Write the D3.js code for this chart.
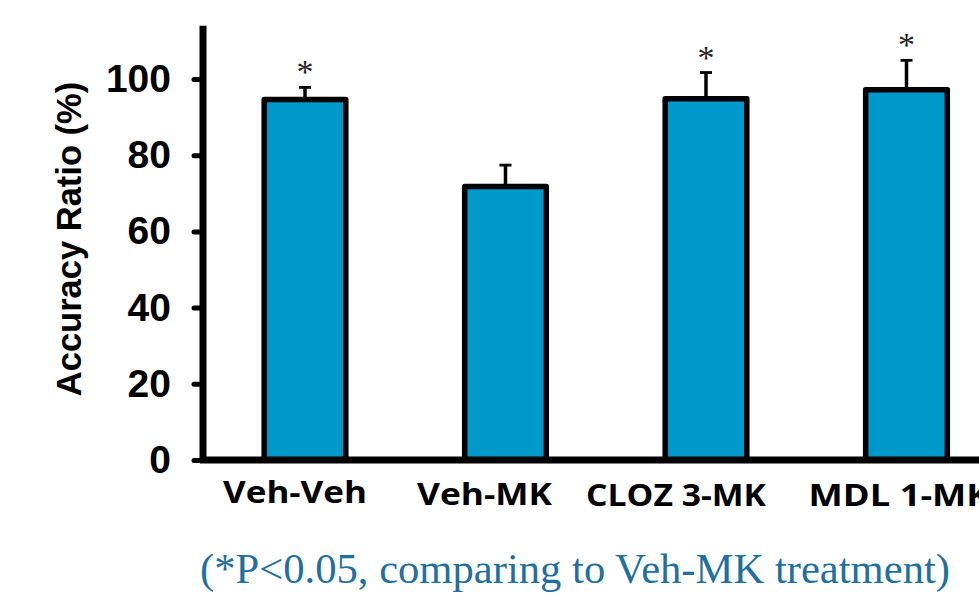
<!DOCTYPE html>
<html>
<head>
<meta charset="utf-8">
<script src="https://cdn.jsdelivr.net/npm/d3@7"></script>
<style>
  html, body { margin: 0; padding: 0; background: #fff; overflow: hidden; }
  svg { display: block; }
</style>
</head>
<body>
<svg id="chart" width="979" height="596"></svg>
<script>
// ---- data ----
const categories = ["Veh-Veh", "Veh-MK", "CLOZ 3-MK", "MDL 1-MK"];
const means = [94.6, 71.8, 94.8, 97.2];
const errors = [3.2, 5.6, 6.9, 7.7];
const significant = [true, false, true, true];
const yTicks = [0, 20, 40, 60, 80, 100];
const yTitle = "Accuracy Ratio (%)";
const footnote = "(*P<0.05, comparing to Veh-MK treatment)";

// ---- layout ----
const W = 979, H = 596;
const axisX = 203, baseY = 460;
const labelShift = [-10, -21, -30, -7];
const labelWidth = [144, 135, 180, 182];
const labelBaseline = [503, 505, 506, 506];

const svg = d3.select("#chart");

const y = d3.scaleLinear().domain([0, 114]).range([baseY, baseY - 114 * 3.81]);
const x = d3.scaleBand().domain(categories)
  .range([204.75, 1006.75]).paddingInner(0.593).paddingOuter(0.2965);

const data = categories.map((c, i) => ({c, m: means[i], e: errors[i], s: significant[i], i}));

// error bars
const eb = svg.append("g");
data.forEach(d => {
  const cx = x(d.c) + x.bandwidth() / 2;
  eb.append("line").attr("x1", cx).attr("x2", cx)
    .attr("y1", y(d.m)).attr("y2", y(d.m + d.e))
    .attr("stroke", "#000").attr("stroke-width", 3.5);
  eb.append("line").attr("x1", cx - 6).attr("x2", cx + 6)
    .attr("y1", y(d.m + d.e)).attr("y2", y(d.m + d.e))
    .attr("stroke", "#000").attr("stroke-width", 2.8);
});

// bars
svg.append("g").selectAll("rect").data(data).join("rect")
  .attr("x", d => x(d.c))
  .attr("width", x.bandwidth())
  .attr("y", d => y(d.m))
  .attr("height", d => y(0) - y(d.m))
  .attr("fill", "#0099cc")
  .attr("stroke", "#000")
  .attr("stroke-width", 5.5)
  .attr("stroke-linejoin", "round");

// asterisks
svg.append("g").selectAll("text").data(data.filter(d => d.s)).join("text")
  .attr("x", d => x(d.c) + x.bandwidth() / 2)
  .attr("y", d => y(d.m + d.e) - 20 + 16)
  .attr("text-anchor", "middle")
  .attr("font-family", "'Liberation Serif', 'Times New Roman', serif")
  .attr("font-size", 34)
  .attr("fill", "#222")
  .text("*");

// y axis
const yAxis = d3.axisLeft(y).tickValues(yTicks).tickSizeInner(9).tickSizeOuter(0).tickPadding(23);
const gy = svg.append("g").attr("transform", `translate(${axisX},0)`).call(yAxis);
gy.select(".domain").remove();
gy.selectAll(".tick line").attr("stroke", "#000").attr("stroke-width", 5).attr("stroke-linecap", "round");
gy.selectAll(".tick text")
  .attr("font-family", "'Liberation Sans', Arial, sans-serif")
  .attr("font-weight", "bold")
  .attr("font-size", 39)
  .attr("fill", "#000");
gy.append("line").attr("x1", 0).attr("x2", 0)
  .attr("y1", y(114)).attr("y2", baseY + 3)
  .attr("stroke", "#000").attr("stroke-width", 7);

// x axis line
svg.append("line").attr("x1", axisX - 3).attr("x2", W)
  .attr("y1", baseY).attr("y2", baseY)
  .attr("stroke", "#000").attr("stroke-width", 7);

// x labels
svg.append("g").selectAll("text").data(data).join("text")
  .attr("x", d => x(d.c) + x.bandwidth() / 2 + labelShift[d.i])
  .attr("y", d => labelBaseline[d.i])
  .attr("text-anchor", "middle")
  .attr("font-family", "'Open Sans', sans-serif")
  .attr("font-weight", "bold")
  .attr("font-size", 31)
  .attr("textLength", d => labelWidth[d.i])
  .attr("lengthAdjust", "spacingAndGlyphs")
  .attr("fill", "#000")
  .text(d => d.c);

// y title
svg.append("text")
  .attr("transform", "translate(81,239) rotate(-90)")
  .attr("text-anchor", "middle")
  .attr("font-family", "'Liberation Sans', Arial, sans-serif")
  .attr("font-weight", "bold")
  .attr("font-size", 34.5)
  .attr("fill", "#000")
  .text(yTitle);

// footnote
svg.append("text")
  .attr("x", 575).attr("y", 583)
  .attr("text-anchor", "middle")
  .attr("font-family", "'Liberation Serif', 'Times New Roman', serif")
  .attr("font-size", 43)
  .attr("textLength", 750)
  .attr("lengthAdjust", "spacingAndGlyphs")
  .attr("fill", "#1f6fa0")
  .text(footnote);
</script>
</body>
</html>
